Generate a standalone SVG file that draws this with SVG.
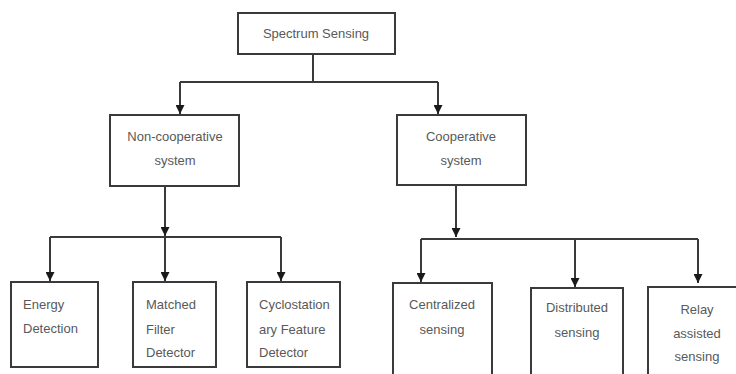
<svg xmlns="http://www.w3.org/2000/svg" width="736" height="374" viewBox="0 0 736 374">
<defs>
<marker id="arr" viewBox="0 0 10 10" refX="10" refY="5" markerWidth="9" markerHeight="9" markerUnits="userSpaceOnUse" orient="auto">
<path d="M0,0 L10,5 L0,10 Z" fill="#1a1a1a"/>
</marker>
<style>
.box{fill:#fff;stroke:#3a3a3a;stroke-width:2}
.ln{fill:none;stroke:#3a3a3a;stroke-width:2}
.t{font-family:"Liberation Sans",Arial,sans-serif;font-size:13px;fill:#595959}
.c{text-anchor:middle}
</style>
</defs>
<rect width="736" height="374" fill="#fff"/>
<g id="connectors">
<path class="ln" d="M313,54 V82 M180,82 H438"/>
<path class="ln" d="M180,82 V114" marker-end="url(#arr)"/>
<path class="ln" d="M438,82 V114" marker-end="url(#arr)"/>
<path class="ln" d="M165,186 V236" marker-end="url(#arr)"/>
<path class="ln" d="M50,237 H281"/>
<path class="ln" d="M50,237 V281" marker-end="url(#arr)"/>
<path class="ln" d="M165,237 V281" marker-end="url(#arr)"/>
<path class="ln" d="M281,237 V281" marker-end="url(#arr)"/>
<path class="ln" d="M456,185 V237" marker-end="url(#arr)"/>
<path class="ln" d="M421,239 H698"/>
<path class="ln" d="M421,239 V282" marker-end="url(#arr)"/>
<path class="ln" d="M575,239 V287" marker-end="url(#arr)"/>
<path class="ln" d="M698,239 V283" marker-end="url(#arr)"/>
</g>
<g id="spectrum">
<rect class="box" x="238" y="13" width="157" height="41"/>
<text class="t c" x="316" y="38">Spectrum Sensing</text>
</g>
<g id="noncoop">
<rect class="box" x="110" y="115" width="129" height="71"/>
<text class="t c" x="175" y="141">Non-cooperative</text>
<text class="t c" x="175" y="165">system</text>
</g>
<g id="coop">
<rect class="box" x="397" y="115" width="129" height="70"/>
<text class="t c" x="461" y="141">Cooperative</text>
<text class="t c" x="461" y="165">system</text>
</g>
<g id="energy">
<rect class="box" x="11" y="282" width="87" height="85"/>
<text class="t" x="23" y="309">Energy</text>
<text class="t" x="23" y="333">Detection</text>
</g>
<g id="matched">
<rect class="box" x="133" y="282" width="83" height="85"/>
<text class="t" x="146" y="309">Matched</text>
<text class="t" x="146" y="334">Filter</text>
<text class="t" x="146" y="357">Detector</text>
</g>
<g id="cyclo">
<rect class="box" x="247" y="282" width="93" height="85"/>
<text class="t" x="259" y="309">Cyclostation</text>
<text class="t" x="259" y="334">ary Feature</text>
<text class="t" x="259" y="357">Detector</text>
</g>
<g id="centralized">
<rect class="box" x="393" y="283" width="99" height="100"/>
<text class="t c" x="442" y="309">Centralized</text>
<text class="t c" x="442" y="334">sensing</text>
</g>
<g id="distributed">
<rect class="box" x="531" y="288" width="92" height="95"/>
<text class="t c" x="577" y="312">Distributed</text>
<text class="t c" x="577" y="337">sensing</text>
</g>
<g id="relay">
<rect class="box" x="648" y="287" width="100" height="96"/>
<text class="t c" x="697" y="314">Relay</text>
<text class="t c" x="697" y="338">assisted</text>
<text class="t c" x="697" y="361">sensing</text>
</g>
</svg>
